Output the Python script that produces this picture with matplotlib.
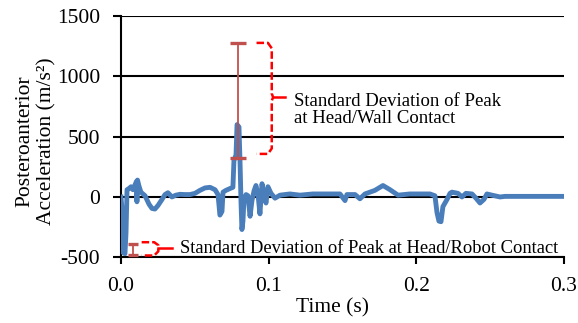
import numpy as np
import matplotlib
matplotlib.use('Agg')
import matplotlib.pyplot as plt

# acceleration trace (time in s, acceleration in m/s^2)
time_s = [0.0, 0.0007, 0.0014, 0.0027, 0.0034, 0.0041, 0.0054, 0.0068, 0.0081, 0.0095,
          0.0105, 0.0108, 0.0112, 0.0122, 0.0135, 0.0163, 0.0190, 0.0210, 0.0230, 0.0251,
          0.0278, 0.0298, 0.0318, 0.0345, 0.0372, 0.0400, 0.0433, 0.0467, 0.0501, 0.0535,
          0.0569, 0.0603, 0.0637, 0.0657, 0.0670, 0.0684, 0.0691, 0.0711, 0.0738, 0.0758,
          0.0765, 0.0779, 0.0786, 0.0799, 0.0806, 0.0813, 0.0819, 0.0826, 0.0833, 0.0847,
          0.0860, 0.0874, 0.0887, 0.0901, 0.0914, 0.0928, 0.0941, 0.0955, 0.0968, 0.0982,
          0.0995, 0.1016, 0.1043, 0.1077, 0.1144, 0.1212, 0.1300, 0.1415, 0.1483, 0.1517,
          0.1530, 0.1585, 0.1618, 0.1652, 0.1720, 0.1774, 0.1822, 0.1876, 0.1957, 0.2092,
          0.2126, 0.2140, 0.2153, 0.2167, 0.2180, 0.2208, 0.2228, 0.2241, 0.2282, 0.2309,
          0.2336, 0.2377, 0.2404, 0.2431, 0.2458, 0.2478, 0.2512, 0.2567, 0.2600, 0.2702,
          0.2837, 0.3000]
accel = [0, -100, -460, -470, -300, 60, 70, 85, 60, 100,
         130, -40, 140, 90, 40, 10, -60, -95, -100, -70,
         -20, 20, 35, 0, 15, 22, 20, 20, 30, 55,
         75, 80, 60, 20, -150, -120, 40, 55, 70, 80,
         300, 350, 600, 580, 300, -50, -270, -200, -20, 20,
         10, -160, -30, 50, 95, 20, -140, 110, 20, -50,
         85, 30, -10, 15, 25, 15, 25, 25, 25, -30,
         20, 20, -15, 25, 55, 95, 60, 15, 25, 25,
         10, -130, -200, -205, -80, -20, 30, 40, 30, 0,
         30, 25, -10, -50, -20, 25, 15, 0, 5, 5,
         5, 5]

# peak statistics: time, mean, standard deviation
wall_t, wall_mean, wall_sd = 0.0794, 802, 475
robot_t, robot_mean, robot_sd = 0.0083, -435, 48

wall_label = 'Standard Deviation of Peak\nat Head/Wall Contact'
robot_label = 'Standard Deviation of Peak at Head/Robot Contact'

plt.rcParams['font.family'] = ['Liberation Serif', 'DejaVu Serif']
plt.rcParams['axes.unicode_minus'] = False

fig = plt.figure(figsize=(5.78, 3.23), dpi=100)
ax = fig.add_axes([0.2093, 0.2034, 0.7665, 0.7471])

ax.plot(time_s, accel, color='#4A7EBB', lw=3.5, solid_joinstyle='round', zorder=3)

# error bars for the two peaks
ax.errorbar(wall_t, wall_mean, yerr=wall_sd, color='#C0504D', lw=1.3,
            capsize=5.5, capthick=2.4, zorder=4)
ax.errorbar(robot_t, robot_mean, yerr=robot_sd, color='#C0504D', lw=1.3,
            capsize=3.6, capthick=2.4, zorder=4)

# red dashed braces pointing at the labels
red = dict(color='red', lw=1.8, ls=(0, (3, 1.2)), zorder=5)
wt, wb = wall_mean + wall_sd, wall_mean - wall_sd + 30
wm = wall_mean + 25
ax.plot([0.0918, 0.0995, 0.1021, 0.1021, 0.1030, 0.1021, 0.1021, 0.0995, 0.0918],
        [wt, wt, wt - 45, wm + 30, wm, wm - 30, wb + 45, wb, wb], **red)
ax.plot([0.1030, 0.1111], [wm, wm], color='red', lw=1.8, zorder=5)
ax.text(0.1172, wm - 105, wall_label, fontsize=13.5, ha='left', va='center',
        linespacing=1.05)

rt, rb = robot_mean + 60, robot_mean - 50
rm = robot_mean + 10
ax.plot([0.0140, 0.0225, 0.0253, 0.0253, 0.0225, 0.0140, 0.0140],
        [rt, rt, rm + 25, rm - 25, rb, rb, rb], **red)
ax.plot([0.0253, 0.0343], [rm, rm], color='red', lw=1.8, zorder=5)
ax.text(0.0400, rm, robot_label, fontsize=13.3, ha='left', va='center')

ax.set_xlim(0, 0.3)
ax.set_ylim(-500, 1500)
ax.set_xticks([0, 0.1, 0.2, 0.3])
ax.set_xticklabels(['0.0', '0.1', '0.2', '0.3'])
ax.set_yticks([-500, 0, 500, 1000, 1500])
ax.grid(axis='y', color='black', lw=1.5, zorder=1)
ax.set_axisbelow(True)
for s in ['top', 'right']:
    ax.spines[s].set_visible(False)
for s in ['left', 'bottom']:
    ax.spines[s].set_linewidth(1.5)
    ax.spines[s].set_zorder(2)
ax.tick_params(axis='y', length=6, width=1.5, pad=9, labelsize=15.5)
ax.tick_params(axis='x', length=5, width=1.5, pad=9, labelsize=15.5)

ax.set_xlabel('Time (s)', fontsize=15.5)
ax.xaxis.set_label_coords(0.477, -0.17)
ax.set_ylabel('Posteroanterior\nAcceleration (m/s²)', fontsize=15.5, linespacing=1.2)
ax.yaxis.set_label_coords(-0.145, 0.48)

fig.savefig('out.png', dpi=100)
